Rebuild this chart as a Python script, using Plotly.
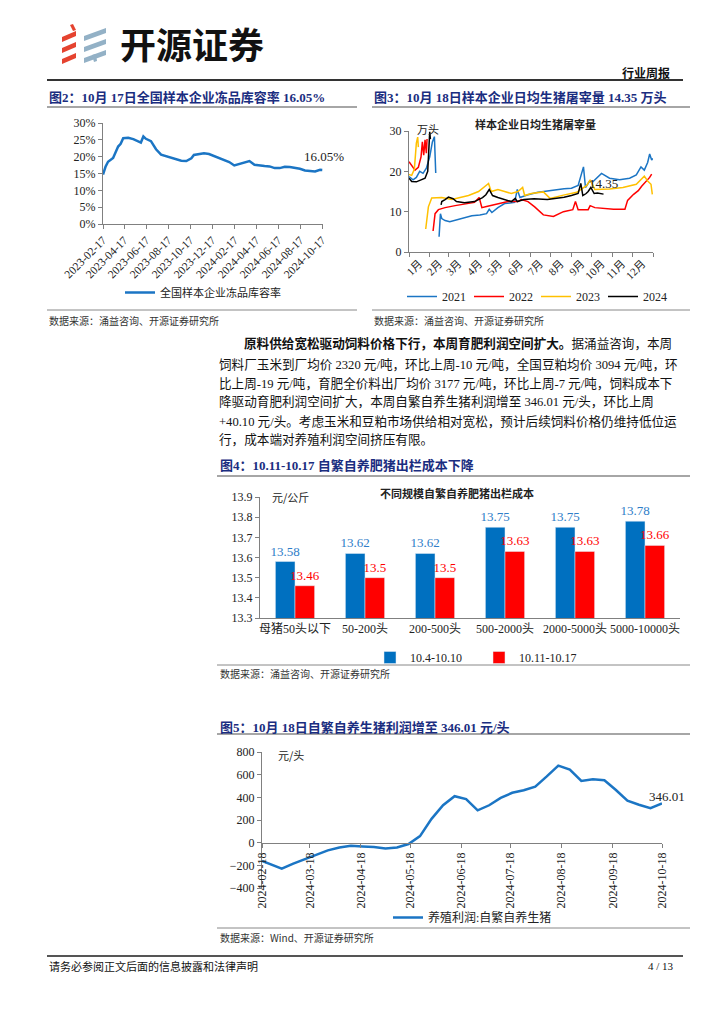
import plotly.graph_objects as go

# page is placed by the browser with an 8px body margin; keep the figure inside the window
OFF = 8
W, H = 724 - 2 * OFF, 1024 - 2 * OFF
def X(px): return (px - OFF) / W
def Y(py): return 1 - (py - OFF) / H

SERIF = "Liberation Serif, Noto Sans CJK SC"
CJK = "Noto Sans CJK SC"
NAVY = "#1a2d80"
BLUE = "#1B75C4"

# ---------------- Chart 2: 冻品库容率 (%) ----------------
c2_dates = ['2023-02-17','2023-02-24','2023-03-03','2023-03-17','2023-03-31','2023-04-07','2023-04-14',
            '2023-04-28','2023-05-12','2023-05-26','2023-06-02','2023-06-09','2023-06-16','2023-06-30',
            '2023-07-14','2023-07-28','2023-08-11','2023-08-25','2023-09-08','2023-09-22','2023-10-06',
            '2023-10-20','2023-10-27','2023-11-10','2023-11-24','2023-12-08','2023-12-22','2024-01-05',
            '2024-01-19','2024-02-02','2024-02-16','2024-03-01','2024-03-15','2024-03-29','2024-04-12',
            '2024-04-26','2024-05-10','2024-05-24','2024-06-07','2024-06-21','2024-07-05','2024-07-19',
            '2024-08-02','2024-08-16','2024-08-30','2024-09-13','2024-09-27','2024-10-11','2024-10-17']
c2_vals = [14.7,17.0,18.5,19.6,23.0,23.8,25.5,25.6,25.2,24.4,24.2,26.0,25.3,24.6,22.2,20.6,20.1,19.8,
           19.2,18.8,18.7,19.5,20.5,20.7,21.0,20.8,20.2,19.4,18.9,18.4,17.4,17.9,18.3,18.7,17.6,17.3,
           17.2,17.1,16.6,16.6,17.0,16.9,16.7,16.4,15.9,15.7,15.6,16.1,16.05]
c2_ticks = ['2023-02-17','2023-04-17','2023-06-17','2023-08-17','2023-10-17','2023-12-17',
            '2024-02-17','2024-04-17','2024-06-17','2024-08-17','2024-10-17']

# ---------------- Chart 3: 日均生猪屠宰量 (万头) ----------------
months = ['1月','2月','3月','4月','5月','6月','7月','8月','9月','10月','11月','12月']
month_mid = [15,45,74,105,135,166,196,227,258,288,319,349]
month_edges = [0,31,59,90,120,151,181,212,243,273,304,334,365]

d2021 = [0,6,11,16,21,26,31,35,38,39,40,None,45,47,49,54,61,71,84,94,106,116,120,124,133,143,158,162,166,
         178,193,208,221,232,243,253,261,264,270,275,288,300,315,330,340,347,352,357,360,363,365]
v2021 = [18.7,17.9,18.5,20.0,19.5,20.8,23.6,27.3,28.6,24.4,19.6,None,3.8,9.5,8.3,7.8,7.5,8.0,8.5,9.0,9.2,
         9.5,10.6,9.8,11.0,12.0,12.3,15.5,13.5,14.2,14.8,15.2,15.5,15.7,15.8,16.5,21.1,16.0,17.5,17.4,
         19.5,18.3,17.9,18.3,19.1,21.1,20.3,22.2,24.3,22.8,23.2]
d2022 = [0,4,9,14,18,20,22,24,26,27,None,36,39,44,54,69,84,98,105,109,116,133,148,163,168,178,188,201,
         216,231,245,249,253,268,271,278,293,306,323,327,336,343,348,355,360,363]
v2022 = [22.4,21.5,20.3,21.0,23.6,27.3,24.0,27.8,24.5,28.0,None,5.2,9.5,10.5,11.0,11.5,12.0,12.3,13.5,
         11.0,11.3,12.0,12.5,12.5,13.0,12.5,11.2,9.2,8.8,10.0,10.5,12.5,10.5,10.5,11.5,11.0,10.8,10.6,
         10.6,12.8,14.3,15.2,16.3,17.5,18.5,19.3]
d2023 = [0,4,8,10,11,13,14,None,25,29,34,49,64,79,89,104,116,119,123,133,143,153,163,170,173,183,201,
         211,231,251,266,271,278,300,320,340,352,357,362,364]
v2023 = [19.2,19.0,20.5,25.0,27.0,28.5,26.0,None,5.7,11.2,13.4,13.5,13.0,13.5,14.0,15.0,16.5,17.0,15.0,
         15.5,15.0,14.5,15.0,16.0,14.0,14.5,14.9,13.3,14.1,14.8,16.5,17.9,15.5,15.6,16.0,16.8,18.8,17.6,
         16.8,14.3]
d2024 = [0,4,11,19,24,28,30,31,32,None,48,49,54,59,66,71,83,98,110,115,120,125,133,143,153,159,162,172,
         187,207,223,232,243,253,257,260,265,268,272,277,282,291]
v2024 = [18.3,17.5,17.4,17.9,18.3,20.0,25.0,29.8,28.0,None,11.7,12.5,13.0,13.6,13.2,12.5,12.2,12.5,13.5,
         14.2,15.5,14.0,13.5,13.0,12.5,13.3,12.5,13.0,13.2,13.0,13.3,13.6,14.0,14.5,17.0,14.0,14.5,15.0,
         16.0,14.5,14.6,14.35]

# ---------------- Chart 4: 出栏成本 (元/公斤) ----------------
scales = ['母猪50头以下','50-200头','200-500头','500-2000头','2000-5000头','5000-10000头']
cost_prev = [13.58,13.62,13.62,13.75,13.75,13.78]
cost_curr = [13.46,13.5,13.5,13.63,13.63,13.66]

# ---------------- Chart 5: 养殖利润 (元/头) ----------------
p_dates = ['2024-02-18','2024-03-01','2024-03-08','2024-03-15','2024-03-22','2024-03-29','2024-04-05',
           '2024-04-12','2024-04-19','2024-04-26','2024-05-03','2024-05-10','2024-05-17','2024-05-24',
           '2024-05-31','2024-06-07','2024-06-14','2024-06-21','2024-06-28','2024-07-05','2024-07-12',
           '2024-07-19','2024-07-26','2024-08-02','2024-08-09','2024-08-16','2024-08-23','2024-08-30',
           '2024-09-06','2024-09-13','2024-09-20','2024-09-27','2024-10-04','2024-10-11','2024-10-18']
p_vals = [-160,-230,-185,-145,-110,-68,-42,-28,-33,-38,-52,-42,-12,58,210,330,410,385,285,330,395,440,
          462,495,585,680,645,545,560,550,465,370,335,305,346.01]
p_ticks = ['2024-02-18','2024-03-18','2024-04-18','2024-05-18','2024-06-18','2024-07-18',
           '2024-08-18','2024-09-18','2024-10-18']

fig = go.Figure()

fig.add_trace(go.Scatter(x=c2_dates, y=c2_vals, mode='lines', name='全国样本企业冻品库容率',
                         showlegend=True, line=dict(color=BLUE, width=2.5), xaxis='x', yaxis='y',
                         legend='legend'))

for d, v, nm, col in [(d2021, v2021, '2021', '#1B75C4'), (d2022, v2022, '2022', '#FF0000'),
                      (d2023, v2023, '2023', '#FFC000'), (d2024, v2024, '2024', '#000000')]:
    fig.add_trace(go.Scatter(x=d, y=v, mode='lines', name=nm, connectgaps=False, showlegend=True,
                             line=dict(color=col, width=1.5), xaxis='x2', yaxis='y2', legend='legend2'))

fig.add_trace(go.Bar(x=scales, y=cost_prev, name='10.4-10.10', marker_color='#0070C0', showlegend=True,
                     text=[str(v) for v in cost_prev], textposition='outside', constraintext='none',
                     cliponaxis=False, textfont=dict(color='#2E7DC8', size=13, family=SERIF),
                     xaxis='x3', yaxis='y3', legend='legend3'))
fig.add_trace(go.Bar(x=scales, y=cost_curr, name='10.11-10.17', marker_color='#FF0000', showlegend=True,
                     text=[str(v) for v in cost_curr], textposition='outside', constraintext='none',
                     cliponaxis=False, textfont=dict(color='#FF0000', size=13, family=SERIF),
                     xaxis='x3', yaxis='y3', legend='legend3'))

fig.add_trace(go.Scatter(x=p_dates, y=p_vals, mode='lines', name='养殖利润:自繁自养生猪', showlegend=True,
                         line=dict(color=BLUE, width=2.5), xaxis='x4', yaxis='y4', legend='legend4'))

axcommon = dict(showgrid=False, zeroline=False, showline=True, linecolor='#808080', linewidth=1,
                ticks='outside', ticklen=4, tickcolor='#808080', automargin=False,
                tickfont=dict(family=SERIF, size=12, color='#222'))
ax_nofont = {k: v for k, v in axcommon.items() if k != 'tickfont'}

y5_dom = [Y(888), Y(752)]
zero_pos = y5_dom[0] + (y5_dom[1] - y5_dom[0]) * 400 / 1200

legfont = dict(family=SERIF, size=12, color='#222')
fig.update_layout(
    width=W, height=H, margin=dict(l=0, r=0, t=0, b=0, autoexpand=False),
    paper_bgcolor='white', plot_bgcolor='white', showlegend=True,
    barmode='group', bargap=0.44, bargroupgap=0,
    font=dict(family=SERIF, size=12, color='#222'),
    xaxis=dict(domain=[X(103), X(323)], anchor='y', type='date',
               range=['2023-02-17', '2024-10-19'], tickvals=c2_ticks, ticktext=c2_ticks,
               tickangle=-45, **ax_nofont,
               tickfont=dict(family=SERIF, size=11.5, color='#222')),
    yaxis=dict(domain=[Y(224), Y(123)], anchor='x', range=[0, 30], dtick=5, ticksuffix='%', **axcommon),
    xaxis2=dict(domain=[X(409), X(653)], anchor='y2', range=[0, 365], tickvals=month_mid,
                ticktext=months, tickangle=-45, showgrid=False, zeroline=False, showline=True,
                linecolor='#808080', ticks='', automargin=False,
                tickfont=dict(family=SERIF, size=11, color='#222'),
                minor=dict(tickvals=month_edges, ticks='outside', ticklen=4, tickcolor='#808080')),
    yaxis2=dict(domain=[Y(252), Y(131)], anchor='x2', range=[0, 30], dtick=10, **axcommon),
    xaxis3=dict(domain=[X(260), X(680)], anchor='y3', type='category', showgrid=False,
                showline=True, linecolor='#808080', ticks='', tickangle=0, automargin=False,
                tickfont=dict(family=SERIF, size=12, color='#222')),
    yaxis3=dict(domain=[Y(618), Y(497)], anchor='x3', range=[13.3, 13.9], dtick=0.1,
                tickformat='.1f', **axcommon),
    xaxis4=dict(domain=[X(262), X(662)], anchor='free', position=zero_pos, type='date',
                range=['2024-02-18', '2024-10-18'], tickvals=p_ticks, ticktext=p_ticks, tickangle=-90,
                **axcommon),
    yaxis4=dict(domain=y5_dom, anchor='x4', range=[-400, 800], dtick=200, **axcommon),
    legend=dict(x=X(120), y=Y(278), xanchor='left', yanchor='top', orientation='h', visible=True,
                font=dict(family=SERIF, size=11, color='#222'), bgcolor='rgba(0,0,0,0)'),
    legend2=dict(x=X(402), y=Y(282), xanchor='left', yanchor='top', orientation='h',
                 entrywidth=22, entrywidthmode='pixels', font=legfont, bgcolor='rgba(0,0,0,0)'),
    legend3=dict(x=X(370), y=Y(643), xanchor='left', yanchor='top', orientation='h',
                 entrywidth=64, entrywidthmode='pixels', font=legfont, bgcolor='rgba(0,0,0,0)'),
    legend4=dict(x=X(388), y=Y(903), xanchor='left', yanchor='top', orientation='h',
                 font=legfont, bgcolor='rgba(0,0,0,0)'),
)

ann = []
def T(px, py, text, size=12, color='#222', family=SERIF, xanchor='left', bold=False):
    if bold:
        text = '<b>' + text + '</b>'
    ann.append(dict(x=X(px), y=Y(py), xref='paper', yref='paper', text=text, showarrow=False,
                    xanchor=xanchor, yanchor='middle', font=dict(size=size, color=color, family=family)))

# header
T(118, 43, '开源证券', size=36, color='#111', family=CJK, bold=True)
T(672, 72, '行业周报', size=12, color='#111', family=CJK, xanchor='right', bold=True)
# chart titles
T(47, 97, '图2：10月 17日全国样本企业冻品库容率 16.05%', size=13, color=NAVY, bold=True)
T(372, 97, '图3：10月 18日样本企业日均生猪屠宰量 14.35 万头', size=13, color=NAVY, bold=True)
T(324, 156, '16.05%', size=13, xanchor='center')
T(535, 124, '样本企业日均生猪屠宰量', size=11, family=CJK, xanchor='center', bold=True)
T(428, 129, '万头', size=11, family=CJK, xanchor='center')
T(603, 183, '14.35', size=13, xanchor='center')
T(47, 320, '数据来源：涌益咨询、开源证券研究所', size=10, color='#333', family=CJK)
T(372, 320, '数据来源：涌益咨询、开源证券研究所', size=10, color='#333', family=CJK)
# paragraph
para = [
    (242, 344, '<b>原料供给宽松驱动饲料价格下行，本周育肥利润空间扩大。</b>据涌益咨询，本周'),
    (217, 364, '饲料厂玉米到厂均价 2320 元/吨，环比上周-10 元/吨，全国豆粕均价 3094 元/吨，环'),
    (217, 383, '比上周-19 元/吨，育肥全价料出厂均价 3177 元/吨，环比上周-7 元/吨，饲料成本下'),
    (217, 402, '降驱动育肥利润空间扩大，本周自繁自养生猪利润增至 346.01 元/头，环比上周'),
    (217, 421, '+40.10 元/头。考虑玉米和豆粕市场供给相对宽松，预计后续饲料价格仍维持低位运'),
    (217, 439, '行，成本端对养殖利润空间挤压有限。'),
]
for px, py, t in para:
    T(px, py, t, size=12.6, color='#111')
T(218, 466, '图4：10.11-10.17 自繁自养肥猪出栏成本下降', size=13, color=NAVY, bold=True)
T(457, 493, '不同规模自繁自养肥猪出栏成本', size=11, family=CJK, xanchor='center', bold=True)
T(270, 497, '元/公斤', size=11, family=CJK)
T(218, 673, '数据来源：涌益咨询、开源证券研究所', size=10, color='#333', family=CJK)
T(218, 727, '图5：10月 18日自繁自养生猪利润增至 346.01 元/头', size=13, color=NAVY, bold=True)
T(276, 755, '元/头', size=11, family=CJK)
T(667, 796, '346.01', size=13, xanchor='center')
T(218, 937, '数据来源：Wind、开源证券研究所', size=10, color='#333', family=CJK)
T(47, 966, '请务必参阅正文后面的信息披露和法律声明', size=11, color='#111', family=CJK)
T(676, 966, '4 / 13', size=11, color='#111', xanchor='right')
fig.update_layout(annotations=ann)

shapes = []
def L(x0, y0, x1, y1, color='#808080', width=1):
    shapes.append(dict(type='line', xref='paper', yref='paper', x0=X(x0), y0=Y(y0), x1=X(x1), y1=Y(y1),
                       line=dict(color=color, width=width)))
L(47, 80, 683, 80, '#333', 2)
L(47, 107, 357, 107, '#888', 1.5)
L(372, 107, 690, 107, '#888', 1.5)
L(47, 310, 357, 310, '#888', 1)
L(372, 310, 690, 310, '#888', 1)
L(217, 476, 690, 476, '#888', 1.5)
L(217, 665, 690, 665, '#888', 1)
L(217, 734, 690, 734, '#888', 1.5)
L(217, 928, 690, 928, '#888', 1)
L(47, 956, 683, 956, '#555', 2)

def P(pts, color):
    path = 'M ' + ' L '.join(f'{X(a)},{Y(b)}' for a, b in pts) + ' Z'
    shapes.append(dict(type='path', xref='paper', yref='paper', path=path, fillcolor=color,
                       line=dict(width=0)))
RED = '#E5432F'
GRAY = '#93B1C6'
for off in [0, 11, 22]:
    P([(62, 37 + off), (76, 31 + off), (76, 36 + off), (62, 42 + off)], RED)
P([(70, 25), (73, 24), (76, 30), (73, 31)], RED)
for off in [0, 11, 22]:
    P([(84, 36 + off), (106, 28 + off), (106, 33 + off), (84, 41 + off)], GRAY)
P([(92, 55), (96, 54), (97, 61), (94, 62)], GRAY)
fig.update_layout(shapes=shapes)

fig.write_html('out.html')
